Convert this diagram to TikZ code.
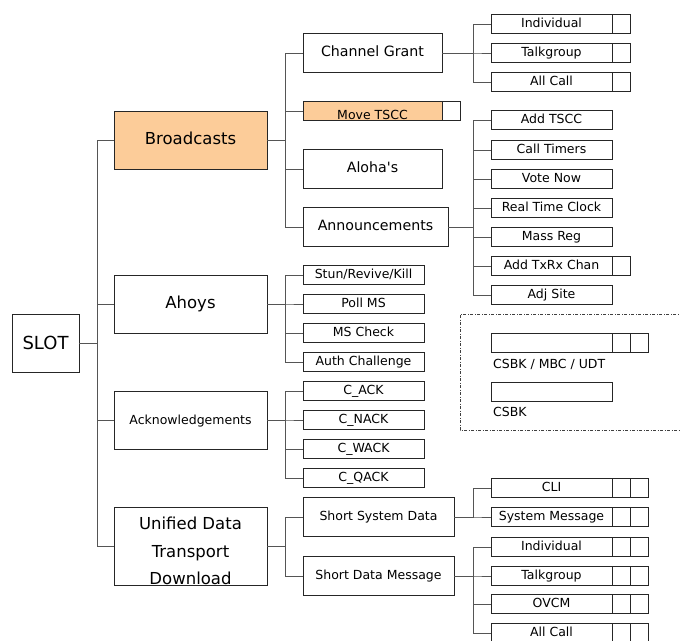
\documentclass[tikz,border=0pt]{standalone}
\usepackage{fontspec}
\setmainfont{DejaVu Sans}
\usepackage{xcolor}
\usepackage{tikz}
\usetikzlibrary{positioning, calc}
\definecolor{peach}{RGB}{252,204,153}
\definecolor{linegray}{RGB}{85,85,85}

\begin{document}
\begin{tikzpicture}[x=1pt, y=-1pt,
  box/.style={draw=black!85, line width=0.9pt, fill=white, inner sep=1pt, outer sep=0pt},
  bigbox/.style={box, minimum width=153pt, minimum height=58pt, text height=12pt, text depth=3pt, font=\fontsize{16.5}{19}\selectfont},
  midbox/.style={box, minimum width=139pt, minimum height=39pt, text height=10.5pt, text depth=3pt, font=\fontsize{14.2}{17}\selectfont},
  leaf/.style={box, minimum width=121pt, minimum height=19pt, text height=9.5pt, text depth=2.5pt, font=\fontsize{12.5}{14}\selectfont},
  cell/.style={box, minimum width=18pt, minimum height=19pt},
  link/.style={draw=linegray, line width=0.9pt},
  legtext/.style={anchor=west, inner sep=0pt, font=\fontsize{12.5}{14}\selectfont}
]
  \useasboundingbox (0,0) rectangle (680,640);
  \clip (0,0) rectangle (680,640);

  % Root
  \node[box, minimum width=67pt, minimum height=58pt, font=\fontsize{18}{20}\selectfont] (slot) at (45.5,343) {SLOT};

  % First level
  \node[bigbox, fill=peach] (bc) at (190.5,140) {Broadcasts};
  \node[bigbox] (ahoy) at (190.5,304) {Ahoys};
  \node[bigbox, font=\fontsize{12.5}{14}\selectfont] (ack) at (190.5,420) {Acknowledgements};
  \node[bigbox, minimum height=78pt] (udt) at (190.5,546) {};
  \node[align=center, inner sep=0pt, font=\fontsize{16.5}{27.5}\selectfont] (udttext) at (190.5,551) {Unified Data\\Transport\\Download};

  % Broadcasts branch
  \node[midbox] (cg) at (372.5,53) {Channel Grant};
  \node[box, fill=peach, minimum width=139pt, minimum height=19pt] (mt) at (372.5,111) {};
  \node[cell, right=0pt of mt] (mtc) {};
  \node[anchor=base, inner sep=0pt, font=\fontsize{12.5}{14}\selectfont] (mttext) at ($(mt.south)+(0,-1.2)$) {Move TSCC};
  \node[midbox] (aloha) at (372.5,169) {Aloha\textquotesingle s};
  \node[midbox, minimum width=145pt] (ann) at (375.5,227) {Announcements};

  % Channel Grant leaves
  \node[leaf] (cgind) at (551.5,24) {Individual};
  \node[cell, right=0pt of cgind] (cgindc) {};
  \node[leaf] (cgtg) at (551.5,53) {Talkgroup};
  \node[cell, right=0pt of cgtg] (cgtgc) {};
  \node[leaf] (cgall) at (551.5,82) {All Call};
  \node[cell, right=0pt of cgall] (cgallc) {};

  % Announcements leaves
  \node[leaf] (addt) at (551.5,120) {Add TSCC};
  \node[leaf] (ctim) at (551.5,150) {Call Timers};
  \node[leaf] (vote) at (551.5,179) {Vote Now};
  \node[leaf] (rtc) at (551.5,208) {Real Time Clock};
  \node[leaf] (mreg) at (551.5,237) {Mass Reg};
  \node[leaf] (txrx) at (551.5,266) {Add TxRx Chan};
  \node[cell, right=0pt of txrx] (txrxc) {};
  \node[leaf] (adj) at (551.5,295) {Adj Site};

  % Ahoys leaves
  \node[leaf] (stun) at (363.5,275) {Stun/Revive/Kill};
  \node[leaf] (poll) at (363.5,304) {Poll MS};
  \node[leaf] (msc) at (363.5,333) {MS Check};
  \node[leaf] (auth) at (363.5,362) {Auth Challenge};

  % Acknowledgement leaves
  \node[leaf] (cack) at (363.5,391) {C\_ACK};
  \node[leaf] (cnack) at (363.5,420) {C\_NACK};
  \node[leaf] (cwack) at (363.5,449) {C\_WACK};
  \node[leaf] (cqack) at (363.5,478) {C\_QACK};

  % Unified Data Transport branch
  \node[midbox, minimum width=151pt, font=\fontsize{12.5}{14}\selectfont] (ssd) at (378.5,517) {Short System Data};
  \node[midbox, minimum width=151pt, font=\fontsize{12.5}{14}\selectfont] (sdm) at (378.5,576) {Short Data Message};

  \node[leaf] (cli) at (551.5,488) {CLI};
  \node[cell, right=0pt of cli] (clic) {};
  \node[cell, right=0pt of clic] (clicc) {};
  \node[leaf] (sysm) at (551.5,517) {System Message};
  \node[cell, right=0pt of sysm] (sysmc) {};
  \node[cell, right=0pt of sysmc] (sysmcc) {};

  \node[leaf] (sdind) at (551.5,547) {Individual};
  \node[cell, right=0pt of sdind] (sdindc) {};
  \node[cell, right=0pt of sdindc] (sdindcc) {};
  \node[leaf] (sdtg) at (551.5,576) {Talkgroup};
  \node[cell, right=0pt of sdtg] (sdtgc) {};
  \node[cell, right=0pt of sdtgc] (sdtgcc) {};
  \node[leaf] (ovcm) at (551.5,604) {OVCM};
  \node[cell, right=0pt of ovcm] (ovcmc) {};
  \node[cell, right=0pt of ovcmc] (ovcmcc) {};
  \node[leaf] (sdall) at (551.5,633) {All Call};
  \node[cell, right=0pt of sdall] (sdallc) {};
  \node[cell, right=0pt of sdallc] (sdallcc) {};

  % Legend
  \draw[draw=black!75, line width=0.6pt, dash pattern=on 3pt off 1.5pt on 1pt off 1.5pt] (690,314) -| (460,430) -- (690,430);
  \node[box, minimum width=121pt, minimum height=19pt] (keyone) at (551.5,343) {};
  \node[cell, right=0pt of keyone] (keyonec) {};
  \node[cell, right=0pt of keyonec] (keyonecc) {};
  \node[legtext] (keyonetext) at (493,364) {CSBK / MBC / UDT};
  \node[box, minimum width=121pt, minimum height=19pt] (keytwo) at (551.5,391.5) {};
  \node[legtext] (keytwotext) at (493,412) {CSBK};

  % Connectors
  \foreach \c in {bc,ahoy,ack,udt}
    \draw[link] (slot.east) -- ++(18,0) |- (\c.west);
  \foreach \c in {cg,mt,aloha,ann}
    \draw[link] (bc.east) -- ++(18,0) |- (\c.west);
  \foreach \c in {cgind,cgtg,cgall}
    \draw[link] (cg.east) -- ++(31,0) |- (\c.west);
  \foreach \c in {addt,ctim,vote,rtc,mreg,txrx,adj}
    \draw[link] (ann.east) -- ++(25,0) |- (\c.west);
  \foreach \c in {stun,poll,msc,auth}
    \draw[link] (ahoy.east) -- ++(18,0) |- (\c.west);
  \foreach \c in {cack,cnack,cwack,cqack}
    \draw[link] (ack.east) -- ++(18,0) |- (\c.west);
  \foreach \c in {ssd,sdm}
    \draw[link] (udt.east) -- ++(18,0) |- (\c.west);
  \foreach \c in {cli,sysm}
    \draw[link] (ssd.east) -- ++(19,0) |- (\c.west);
  \foreach \c in {sdind,sdtg,ovcm,sdall}
    \draw[link] (sdm.east) -- ++(19,0) |- (\c.west);
\end{tikzpicture}
\end{document}
